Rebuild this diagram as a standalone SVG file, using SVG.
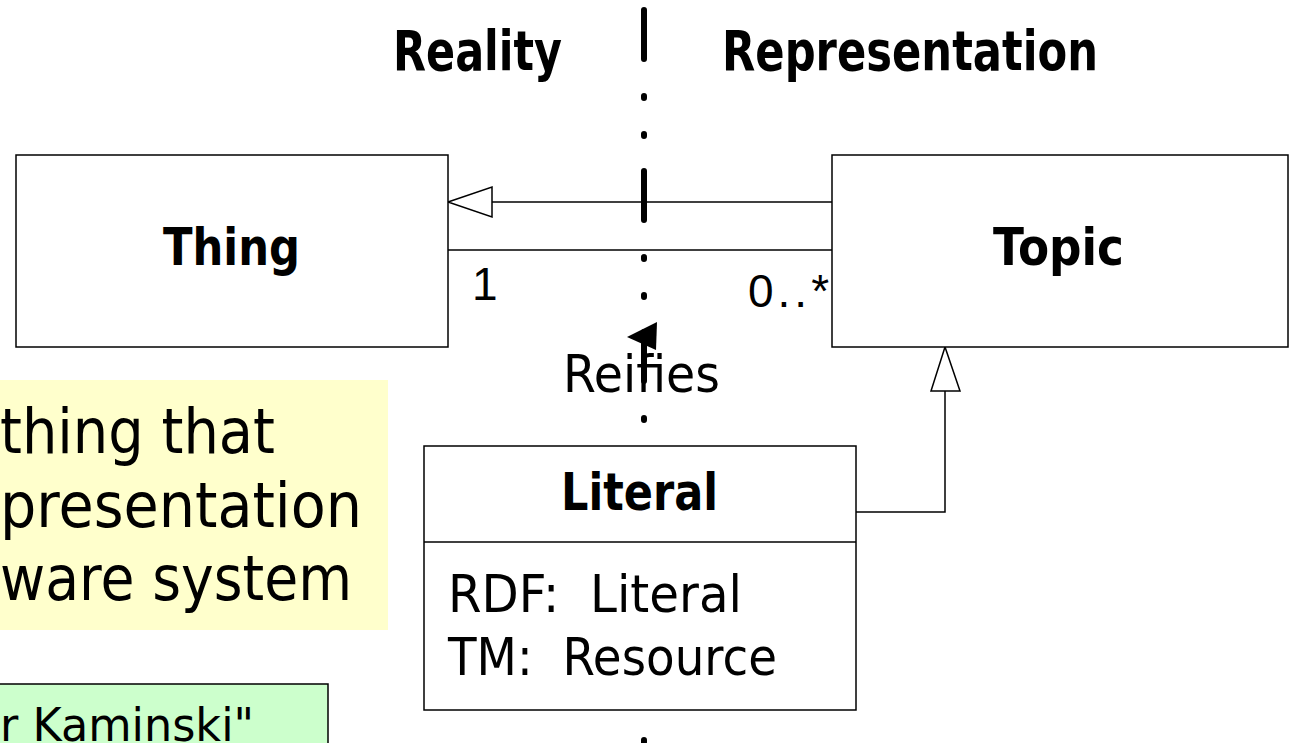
<svg xmlns="http://www.w3.org/2000/svg" width="1295" height="743" viewBox="0 0 1295 743">
  <style>
    .box { fill: #ffffff; stroke: #000000; stroke-width: 1.5; }
    .t { font-family: "DejaVu Sans", "Liberation Sans", sans-serif; fill: #000000; }
    .b { font-weight: bold; }
    .num { font-family: "Liberation Sans", Arial, sans-serif; fill: #000000; font-size: 46px; }
    .ln { fill: none; stroke: #000000; stroke-width: 1.5; }
    .hollow { fill: #ffffff; stroke: #000000; stroke-width: 1.5; }
  </style>
  <rect width="1295" height="743" fill="#ffffff"/>

  <g id="divider-line">
    <line x1="644" y1="10" x2="644" y2="746" stroke="#000000" stroke-width="6" stroke-linecap="round" stroke-dasharray="49 37 2 36 2 35"/>
  </g>

  <g id="note-yellow">
    <rect x="0" y="380" width="388" height="250" fill="#ffffcc"/>
    <text class="t" x="0" y="453" font-size="62" textLength="275" lengthAdjust="spacingAndGlyphs">thing that</text>
    <text class="t" x="0" y="527" font-size="62" textLength="362" lengthAdjust="spacingAndGlyphs">presentation</text>
    <text class="t" x="0" y="600" font-size="62" textLength="352" lengthAdjust="spacingAndGlyphs">ware system</text>
  </g>

  <g id="note-green">
    <rect x="-2" y="684" width="330" height="70" fill="#ccffcc" stroke="#000000" stroke-width="1.5"/>
    <text class="t" x="0" y="741" font-size="46" textLength="254" lengthAdjust="spacingAndGlyphs">r Kaminski"</text>
  </g>

  <g id="labels">
    <text class="t b" x="393" y="70" font-size="55" textLength="169" lengthAdjust="spacingAndGlyphs">Reality</text>
    <text class="t b" x="722" y="70" font-size="55" textLength="376" lengthAdjust="spacingAndGlyphs">Representation</text>
  </g>

  <g id="connectors">
    <!-- generalization Topic -> Thing -->
    <line class="ln" x1="832" y1="202" x2="492" y2="202"/>
    <polygon class="hollow" points="448,202 492,187 492,217"/>
    <!-- association -->
    <line class="ln" x1="448" y1="250" x2="832" y2="250"/>
    <text class="num" x="472" y="300">1</text>
    <text class="num" x="748" y="307" letter-spacing="4">0..*</text>
    <!-- generalization Literal -> Topic -->
    <polyline class="ln" points="856,512 945,512 945,391"/>
    <polygon class="hollow" points="945,347 931,391 960,391"/>
  </g>

  <g id="thing">
    <rect class="box" x="16" y="155" width="432" height="192"/>
    <text class="t b" x="163" y="265" font-size="51" textLength="137" lengthAdjust="spacingAndGlyphs">Thing</text>
  </g>

  <g id="topic">
    <rect class="box" x="832" y="155" width="456" height="192"/>
    <text class="t b" x="993" y="265" font-size="51" textLength="131" lengthAdjust="spacingAndGlyphs">Topic</text>
  </g>

  <g id="literal">
    <rect class="box" x="424" y="446" width="432" height="264"/>
    <line class="ln" x1="424" y1="542" x2="856" y2="542"/>
    <text class="t b" x="561" y="510" font-size="51" textLength="157" lengthAdjust="spacingAndGlyphs">Literal</text>
    <text class="t" x="448" y="612" font-size="52" xml:space="preserve" style="white-space:pre" textLength="294" lengthAdjust="spacingAndGlyphs">RDF:  Literal</text>
    <text class="t" x="448" y="675" font-size="52" xml:space="preserve" style="white-space:pre" textLength="329" lengthAdjust="spacingAndGlyphs">TM:  Resource</text>
  </g>

  <g id="reifies">
    <polygon points="627,337 657,322 656,350" fill="#000000"/>
    <text class="t" x="563" y="392" font-size="52" textLength="157" lengthAdjust="spacingAndGlyphs">Reifies</text>
  </g>
</svg>
